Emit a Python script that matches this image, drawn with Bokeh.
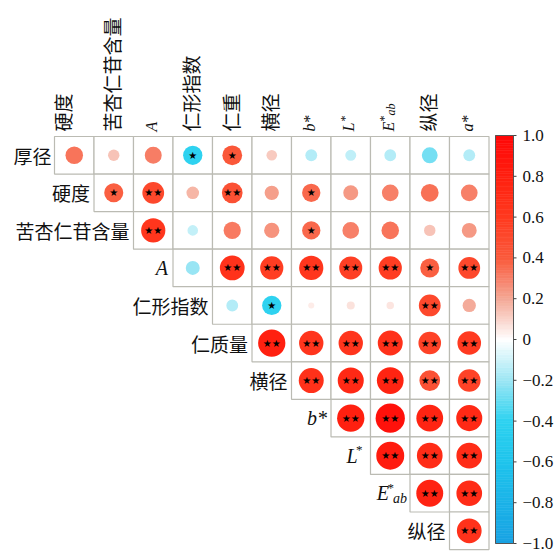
import numpy as np
from bokeh.plotting import figure
from bokeh.models import Range1d, ColumnDataSource, LinearColorMapper
from bokeh.transform import transform
from bokeh.core.properties import value
from bokeh.embed import file_html
from bokeh.resources import INLINE

# ---------------- data ----------------
col_labels = ["硬度", "苦杏仁苷含量", "A", "仁形指数", "仁重", "横径", "b*", "L*", "E*ab", "纵径", "a*"]
row_labels = ["厚径", "硬度", "苦杏仁苷含量", "A", "仁形指数", "仁质量", "横径", "b*", "L*", "E*ab", "纵径"]

# correlation coefficients; row i holds columns i..10
r_houjing = [0.33, 0.14, 0.31, -0.40, 0.42, 0.12, -0.15, -0.13, -0.15, -0.27, -0.15]
r_yingdu = [0.39, 0.51, 0.17, 0.46, 0.22, 0.36, 0.24, 0.30, 0.34, 0.30]
r_kxrg = [0.63, -0.12, 0.32, 0.25, 0.36, 0.30, 0.33, 0.14, 0.24]
r_A = [-0.21, 0.66, 0.58, 0.63, 0.57, 0.58, 0.39, 0.51]
r_rxzs = [-0.15, -0.40, 0.04, 0.07, 0.06, 0.51, 0.19]
r_rzl = [0.80, 0.64, 0.64, 0.67, 0.55, 0.60]
r_hengjing = [0.67, 0.73, 0.77, 0.46, 0.55]
r_bstar = [0.80, 0.92, 0.77, 0.73]
r_Lstar = [0.84, 0.71, 0.71]
r_Eab = [0.78, 0.71]
r_zongjing = [0.66]

sig_houjing = ["", "", "", "*", "*", "", "", "", "", "", ""]
sig_yingdu = ["*", "**", "", "**", "", "*", "", "", "", ""]
sig_kxrg = ["**", "", "", "", "*", "", "", "", ""]
sig_A = ["", "**", "**", "**", "**", "**", "*", "**"]
sig_rxzs = ["", "*", "", "", "", "**", ""]
sig_rzl = ["**", "**", "**", "**", "**", "**"]
sig_hengjing = ["**", "**", "**", "**", "**"]
sig_bstar = ["**", "**", "**", "**"]
sig_Lstar = ["**", "**", "**"]
sig_Eab = ["**", "**"]
sig_zongjing = ["**"]

corr_rows = [r_houjing, r_yingdu, r_kxrg, r_A, r_rxzs, r_rzl, r_hengjing, r_bstar, r_Lstar, r_Eab, r_zongjing]
sig_rows = [sig_houjing, sig_yingdu, sig_kxrg, sig_A, sig_rxzs, sig_rzl, sig_hengjing, sig_bstar, sig_Lstar, sig_Eab, sig_zongjing]

cb_ticks = [1.0, 0.8, 0.6, 0.4, 0.2, 0.0, -0.2, -0.4, -0.6, -0.8, -1.0]
cb_tick_labels = ["1.0", "0.8", "0.6", "0.4", "0.2", "0", "\u22120.2", "\u22120.4", "\u22120.6", "\u22120.8", "\u22121.0"]

# ---------------- layout / style ----------------
W, H = 558, 553
GRID_LEFT, CELL_W = 54.0, 39.5
GRID_TOP, CELL_H = 136.0, 37.55
CB_LEFT, CB_RIGHT, CB_TOP, CB_BOTTOM = 495.0, 513.0, 135.0, 543.0
DMAX = 30.5

stops_v = [-1.0, -0.8, -0.6, -0.4, -0.2, 0.0, 0.2, 0.4, 0.6, 0.8, 1.0]
stops_c = ["#19A2E3", "#1BB3E8", "#1FC4EC", "#2ED2F0", "#9CE6F4", "#FFFFFF",
           "#F4A896", "#FA5A3C", "#FF3A20", "#FF2010", "#FF0808"]


def hex2rgb(h):
    return [int(h[i:i + 2], 16) for i in (1, 3, 5)]


rgb = np.array([hex2rgb(c) for c in stops_c], dtype=float)
vals = np.linspace(-1, 1, 256)
palette = []
for v in vals:
    cc = [int(round(np.interp(v, stops_v, rgb[:, k]))) for k in range(3)]
    palette.append("#%02x%02x%02x" % tuple(cc))
mapper = LinearColorMapper(palette=palette, low=-1, high=1)

x_start = -GRID_LEFT / CELL_W
x_end = (W - GRID_LEFT) / CELL_W
y_top = -GRID_TOP / CELL_H
y_bottom = (H - GRID_TOP) / CELL_H

p = figure(width=W, height=H, x_range=Range1d(x_start, x_end), y_range=Range1d(y_bottom, y_top),
           output_backend="svg", toolbar_location=None, min_border=0,
           x_axis_location=None, y_axis_location=None)
p.outline_line_color = None
p.grid.visible = False
p.background_fill_color = "white"
p.border_fill_color = "white"

cb_span = (CB_BOTTOM - CB_TOP) / 2.0
p.extra_x_ranges = {"px": Range1d(0, W)}
p.extra_y_ranges = {"cb": Range1d(1 - (H - CB_TOP) / cb_span, 1 + CB_TOP / cb_span)}

# ---------------- cells ----------------
xs, ys, rs, sizes, stars = [], [], [], [], []
for i, (row, srow) in enumerate(zip(corr_rows, sig_rows)):
    for k, (r, s) in enumerate(zip(row, srow)):
        j = i + k
        xs.append(j + 0.5)
        ys.append(i + 0.5)
        rs.append(r)
        sizes.append(DMAX * np.sqrt(abs(r)))
        stars.append({"": "", "*": "\u2605", "**": "\u2605\u2605"}[s])

src = ColumnDataSource(dict(x=xs, y=ys, r=rs, size=sizes, star=stars))

p.rect(x="x", y="y", width=1, height=1, source=src, fill_color="white",
       line_color="#BBBBB3", line_width=1.2)
p.scatter(x="x", y="y", size="size", source=src, fill_color=transform("r", mapper),
          line_color=None)
p.text(x="x", y="y", text="star", source=src, text_align="center", text_baseline="middle",
       text_font=value("DejaVu Sans"), text_font_size="10px", text_color="black")

CJK = value("Noto Sans CJK SC")
SERIF = value("Liberation Serif")

# ---------------- column labels (rotated) ----------------
col_pieces = {
    "A": [("A", 16, True, 0, 0)],
    "b*": [("b*", 16, True, 0, 0)],
    "L*": [("L", 16, True, 0, 0), ("*", 12, False, 10, 4)],
    "E*ab": [("E", 16, True, 0, 0), ("*", 12, False, 10, 4), ("ab", 12, True, 16, -3)],
    "a*": [("a*", 16, True, 0, 0)],
}
for j, lab in enumerate(col_labels):
    xoff_base = -12 if j == 0 else -2
    if lab in col_pieces:
        for txt, fs, ital, along, perp in col_pieces[lab]:
            p.text(x=[j + 0.5], y=[0], text=[txt], angle=np.pi / 2,
                   x_offset=xoff_base - perp, y_offset=-5 - along,
                   text_align="left", text_baseline="middle", text_font=SERIF,
                   text_font_style="italic" if ital else "normal",
                   text_font_size=f"{fs}px", text_color="#111111")
    else:
        p.text(x=[j + 0.5], y=[0], text=[lab], angle=np.pi / 2,
               x_offset=xoff_base, y_offset=-5,
               text_align="left", text_baseline="middle", text_font=CJK,
               text_font_size="19px", text_color="#111111")

# ---------------- row labels ----------------
row_pieces = {
    "A": [("A", 20, True, -5, 0)],
    "b*": [("b*", 20, True, -4, 0)],
    "L*": [("*", 13, False, -8, -6), ("L", 20, True, -13, 0)],
    "E*ab": [("ab", 14, True, -3, 5), ("*", 13, False, -16, -6), ("E", 20, True, -21, 0)],
}
for i, lab in enumerate(row_labels):
    if lab in row_pieces:
        for txt, fs, ital, xo, yo in row_pieces[lab]:
            p.text(x=[i], y=[i + 0.5], text=[txt], x_offset=xo, y_offset=yo,
                   text_align="right", text_baseline="middle", text_font=SERIF,
                   text_font_style="italic" if ital else "normal",
                   text_font_size=f"{fs}px", text_color="#111111")
    else:
        p.text(x=[i], y=[i + 0.5], text=[lab], x_offset=-3 if i == 0 else -4,
               text_align="right", text_baseline="middle", text_font=CJK,
               text_font_size="19px", text_color="#111111")

# ---------------- colour bar ----------------
edges = np.linspace(-1, 1, 161)
mids = (edges[:-1] + edges[1:]) / 2
cb_src = ColumnDataSource(dict(bottom=edges[:-1], top=edges[1:], mid=mids))
p.quad(left=CB_LEFT, right=CB_RIGHT, bottom="bottom", top="top", source=cb_src,
       fill_color=transform("mid", mapper), line_color=transform("mid", mapper), line_width=0.6,
       x_range_name="px", y_range_name="cb")
p.quad(left=[CB_LEFT], right=[CB_RIGHT], bottom=[-1], top=[1], fill_color=None,
       line_color="#555555", line_width=1, x_range_name="px", y_range_name="cb")
p.segment(x0=CB_RIGHT, x1=CB_RIGHT + 3, y0=cb_ticks, y1=cb_ticks, line_color="#444444",
          line_width=1, x_range_name="px", y_range_name="cb")
p.text(x=CB_RIGHT + 9, y=cb_ticks, text=cb_tick_labels, text_align="left", text_baseline="middle",
       text_font=SERIF, text_font_size="17px", text_color="#111111",
       x_range_name="px", y_range_name="cb")

open("out.html", "w").write(file_html(p, INLINE))
